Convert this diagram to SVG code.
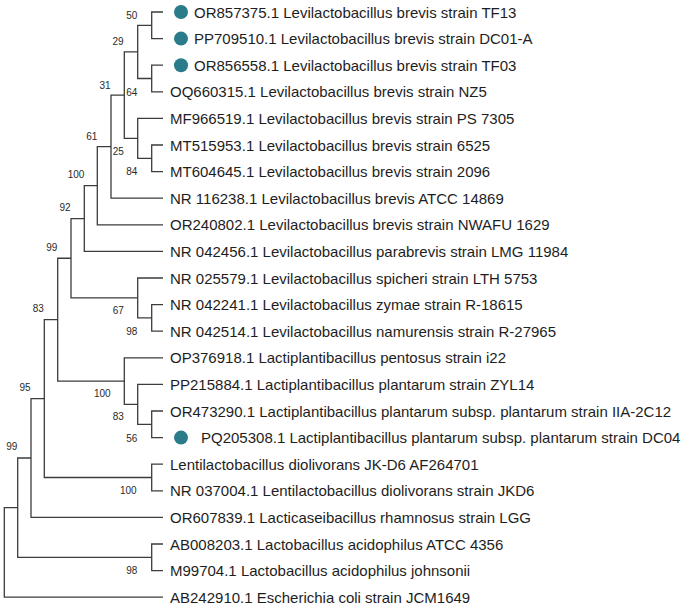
<svg xmlns="http://www.w3.org/2000/svg" width="685" height="611" viewBox="0 0 685 611">
<style>
.e{fill:none;stroke:#3c3c3c;stroke-width:1.3}
.t{font-family:"Liberation Sans",Arial,sans-serif;font-size:15px;fill:#1e1e1e}
.b{font-family:"Liberation Sans",Arial,sans-serif;font-size:10px;fill:#2a2a2a;text-anchor:middle}
.d{fill:#2b7c8b}
</style>
<rect width="685" height="611" fill="#ffffff"/>
<g id="connectors">
<path class="e" d="M151.7 25.3V12H163M151.7 25.3V38.6H163"/>
<path class="e" d="M151.7 78.5V65.2H163M151.7 78.5V91.8H163"/>
<path class="e" d="M137.7 51.9V25.3H151.7M137.7 51.9V78.5H151.7"/>
<path class="e" d="M151.7 158.3V145H163M151.7 158.3V171.6H163"/>
<path class="e" d="M137.7 138.35V118.4H163M137.7 138.35V158.3H151.7"/>
<path class="e" d="M124.3 95.1V51.9H137.7M124.3 95.1V138.35H137.7"/>
<path class="e" d="M111 146.65V95.1H124.3M111 146.65V198.2H163"/>
<path class="e" d="M97.3 185.7V146.65H111M97.3 185.7V224.8H163"/>
<path class="e" d="M84.3 218.55V185.7H97.3M84.3 218.55V251.4H163"/>
<path class="e" d="M151.7 317.9V304.6H163M151.7 317.9V331.2H163"/>
<path class="e" d="M137.7 297.95V278H163M137.7 297.95V317.9H151.7"/>
<path class="e" d="M71 258.25V218.55H84.3M71 258.25V297.95H137.7"/>
<path class="e" d="M151.7 424.3V411H163M151.7 424.3V437.6H163"/>
<path class="e" d="M137.7 404.35V384.4H163M137.7 404.35V424.3H151.7"/>
<path class="e" d="M124.3 381.1V357.8H163M124.3 381.1V404.35H137.7"/>
<path class="e" d="M57.7 319.7V258.25H71M57.7 319.7V381.1H124.3"/>
<path class="e" d="M151.7 477.5V464.2H163M151.7 477.5V490.8H163"/>
<path class="e" d="M44.3 398.6V319.7H57.7M44.3 398.6V477.5H151.7"/>
<path class="e" d="M31 458V398.6H44.3M31 458V517.4H163"/>
<path class="e" d="M151.7 557.3V544H163M151.7 557.3V570.6H163"/>
<path class="e" d="M17.7 507.65V458H31M17.7 507.65V557.3H151.7"/>
<path class="e" d="M4.3 552.4V507.65H17.7M4.3 552.4V597.2H163"/>
</g>
<g id="bootstrap">
<text class="b" x="131.7" y="18.6">50</text>
<text class="b" x="118" y="45.3">29</text>
<text class="b" x="105" y="88.6">31</text>
<text class="b" x="131.7" y="95.5">64</text>
<text class="b" x="91.7" y="139.6">61</text>
<text class="b" x="118.3" y="155.3">25</text>
<text class="b" x="131.7" y="175.3">84</text>
<text class="b" x="76" y="177.9">100</text>
<text class="b" x="65" y="210.9">92</text>
<text class="b" x="51.7" y="250.9">99</text>
<text class="b" x="118.3" y="314.3">67</text>
<text class="b" x="131.7" y="335.3">98</text>
<text class="b" x="38.3" y="311.9">83</text>
<text class="b" x="25" y="391.1">95</text>
<text class="b" x="102.3" y="396.9">100</text>
<text class="b" x="118.3" y="420.3">83</text>
<text class="b" x="131.7" y="441.9">56</text>
<text class="b" x="11.7" y="450.3">99</text>
<text class="b" x="128.3" y="494.4">100</text>
<text class="b" x="131.7" y="574.3">98</text>
</g>
<g id="leaf1"><circle class="d" cx="181" cy="12" r="7"/><text class="t" x="194" y="17.5">OR857375.1 Levilactobacillus brevis strain TF13</text></g>
<g id="leaf2"><circle class="d" cx="181" cy="38.6" r="7"/><text class="t" x="194" y="44.1">PP709510.1 Levilactobacillus brevis strain DC01-A</text></g>
<g id="leaf3"><circle class="d" cx="181" cy="65.2" r="7"/><text class="t" x="194" y="70.7">OR856558.1 Levilactobacillus brevis strain TF03</text></g>
<g id="leaf4"><text class="t" x="170" y="97.3">OQ660315.1 Levilactobacillus brevis strain NZ5</text></g>
<g id="leaf5"><text class="t" x="170" y="123.9">MF966519.1 Levilactobacillus brevis strain PS 7305</text></g>
<g id="leaf6"><text class="t" x="170" y="150.5">MT515953.1 Levilactobacillus brevis strain 6525</text></g>
<g id="leaf7"><text class="t" x="170" y="177.1">MT604645.1 Levilactobacillus brevis strain 2096</text></g>
<g id="leaf8"><text class="t" x="170" y="203.7">NR 116238.1 Levilactobacillus brevis ATCC 14869</text></g>
<g id="leaf9"><text class="t" x="170" y="230.3">OR240802.1 Levilactobacillus brevis strain NWAFU 1629</text></g>
<g id="leaf10"><text class="t" x="170" y="256.9">NR 042456.1 Levilactobacillus parabrevis strain LMG 11984</text></g>
<g id="leaf11"><text class="t" x="170" y="283.5">NR 025579.1 Levilactobacillus spicheri strain LTH 5753</text></g>
<g id="leaf12"><text class="t" x="170" y="310.1">NR 042241.1 Levilactobacillus zymae strain R-18615</text></g>
<g id="leaf13"><text class="t" x="170" y="336.7">NR 042514.1 Levilactobacillus namurensis strain R-27965</text></g>
<g id="leaf14"><text class="t" x="170" y="363.3">OP376918.1 Lactiplantibacillus pentosus strain i22</text></g>
<g id="leaf15"><text class="t" x="170" y="389.9">PP215884.1 Lactiplantibacillus plantarum strain ZYL14</text></g>
<g id="leaf16"><text class="t" x="170" y="416.5">OR473290.1 Lactiplantibacillus plantarum subsp. plantarum strain IIA-2C12</text></g>
<g id="leaf17"><circle class="d" cx="181" cy="437.6" r="7"/><text class="t" x="201" y="443.1">PQ205308.1 Lactiplantibacillus plantarum subsp. plantarum strain DC04</text></g>
<g id="leaf18"><text class="t" x="170" y="469.7">Lentilactobacillus diolivorans JK-D6 AF264701</text></g>
<g id="leaf19"><text class="t" x="170" y="496.3">NR 037004.1 Lentilactobacillus diolivorans strain JKD6</text></g>
<g id="leaf20"><text class="t" x="170" y="522.9">OR607839.1 Lacticaseibacillus rhamnosus strain LGG</text></g>
<g id="leaf21"><text class="t" x="170" y="549.5">AB008203.1 Lactobacillus acidophilus ATCC 4356</text></g>
<g id="leaf22"><text class="t" x="170" y="576.1">M99704.1 Lactobacillus acidophilus johnsonii</text></g>
<g id="leaf23"><text class="t" x="170" y="602.7">AB242910.1 Escherichia coli strain JCM1649</text></g>
</svg>
